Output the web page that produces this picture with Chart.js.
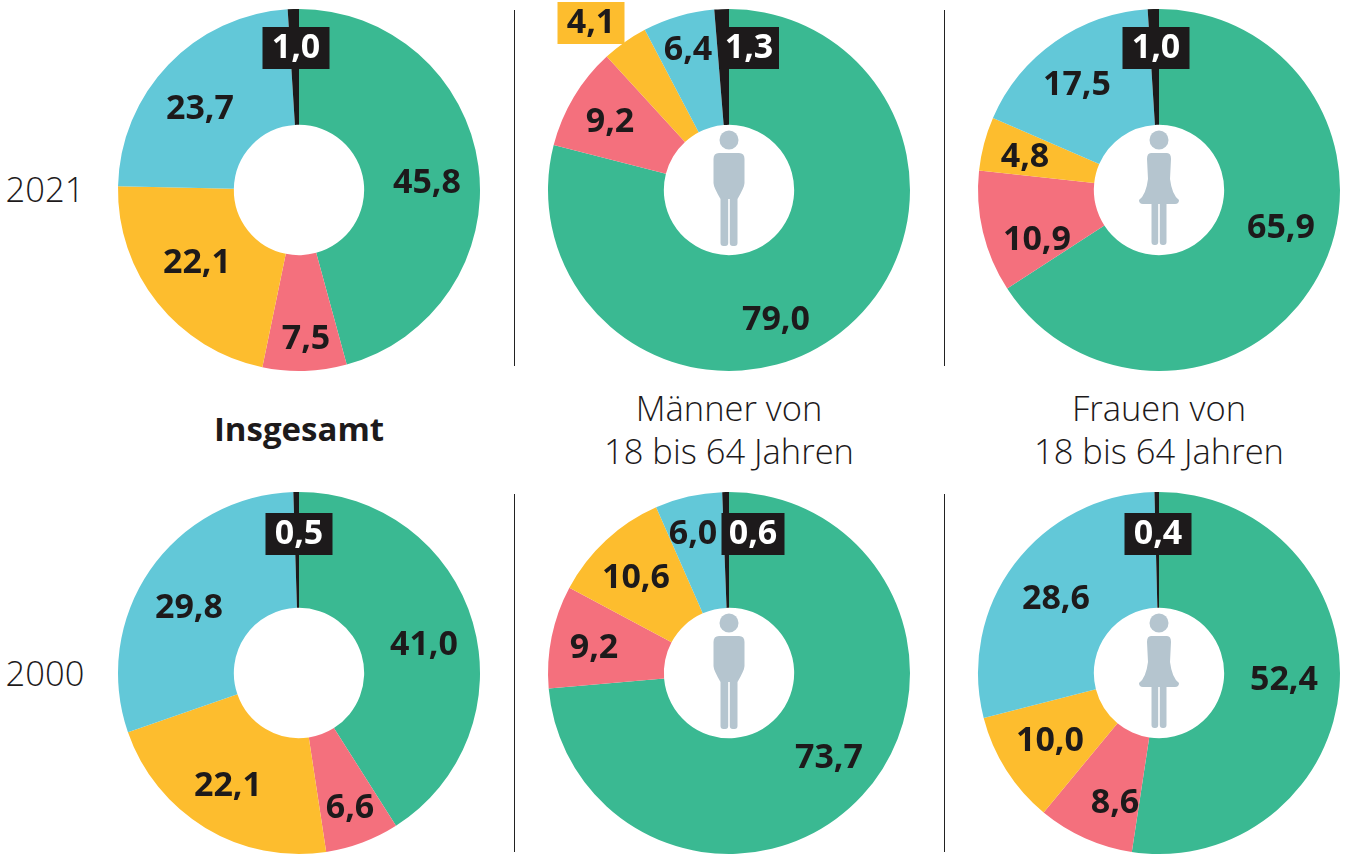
<!DOCTYPE html>
<html lang="de">
<head>
<meta charset="utf-8">
<title>Donuts</title>
<script src="https://cdn.jsdelivr.net/npm/chart.js@4"></script>
<style>
  html, body { margin: 0; padding: 0; background: #fff; }
  #page { position: relative; width: 1348px; height: 854px; overflow: hidden; font-family: "Open Sans", sans-serif; color: #1d1a1b; }
  canvas { position: absolute; }
  .txt { position: absolute; font-size: 34.5px; line-height: 43px; font-weight: 300; white-space: nowrap; text-align: center; transform: translateX(-50%); }
  .rule { position: absolute; width: 1px; background: #222; }
</style>
</head>
<body>
<div id="page">
  <div class="txt" style="left:45px;top:167px">2021</div>
  <div class="txt" style="left:45px;top:651px">2000</div>
  <div class="txt" style="left:299px;top:407px;font-weight:700;font-size:33px">Insgesamt</div>
  <div class="txt" style="left:729px;top:386px">Männer von<br>18 bis 64 Jahren</div>
  <div class="txt" style="left:1159px;top:386px">Frauen von<br>18 bis 64 Jahren</div>
  <div class="rule" style="left:514px;top:10px;height:356px"></div>
  <div class="rule" style="left:944px;top:10px;height:356px"></div>
  <div class="rule" style="left:514px;top:494px;height:358px"></div>
  <div class="rule" style="left:944px;top:494px;height:358px"></div>
  <canvas id="c0"></canvas><canvas id="c1"></canvas><canvas id="c2"></canvas>
  <canvas id="c3"></canvas><canvas id="c4"></canvas><canvas id="c5"></canvas>
</div>
<script>
const categories = ["Grün", "Rot", "Gelb", "Blau", "Schwarz"];

const total2021 = [45.8, 7.5, 22.1, 23.7, 1.0];
const men2021 = [79.0, 9.2, 4.1, 6.4, 1.3];
const women2021 = [65.9, 10.9, 4.8, 17.5, 1.0];
const total2000 = [41.0, 6.6, 22.1, 29.8, 0.5];
const men2000 = [73.7, 9.2, 10.6, 6.0, 0.6];
const women2000 = [52.4, 8.6, 10.0, 28.6, 0.4];

const colors = ["#3ab992", "#f4707d", "#fdbd2e", "#62c8d8", "#1d1a1b"];

// label positions relative to the donut centre, same order as the values
const charts = [
  { id: "c0", values: total2021, cx: 299, cy: 190, icon: null, at: [[128, -7], [7, 149], [-102, 73], [-99, -81], [-3, -142]] },
  { id: "c1", values: men2021, cx: 729, cy: 190, icon: "man", at: [[47, 130], [-119, -68], [-138, -167], [-41, -140], [20, -142]], boxed: { 2: "#fdbd2e" }, blackW: 60 },
  { id: "c2", values: women2021, cx: 1159, cy: 190, icon: "woman", at: [[122, 38], [-122, 50], [-134, -33], [-82, -105], [-3, -142]] },
  { id: "c3", values: total2000, cx: 299, cy: 673, icon: null, at: [[125, -28], [51, 135], [-71, 113], [-110, -65], [0, -139]] },
  { id: "c4", values: men2000, cx: 729, cy: 673, icon: "man", at: [[100, 85], [-135, -25], [-93, -95], [-36, -139], [24, -139]], blackW: 63 },
  { id: "c5", values: women2000, cx: 1159, cy: 673, icon: "woman", at: [[125, 7], [-44, 130], [-109, 68], [-103, -74], [-1, -139]] },
];

const boxW = 67;
const boxH = 42;

function fmt(v) {
  return v.toFixed(1).replace(".", ",");
}

// value labels and the grey figure in the hole
const labelPlugin = {
  id: "labels",
  afterDraw(chart, args, opts) {
    const ctx = chart.ctx;
    const c = chart.width / 2;
    if (opts.icon) drawIcon(ctx, c, opts.icon);
    ctx.font = "700 34px 'Open Sans', sans-serif";
    ctx.textAlign = "center";
    ctx.textBaseline = "middle";
    chart.data.datasets[0].data.forEach((v, i) => {
      const x = c + opts.at[i][0];
      const y = c + opts.at[i][1];
      let fill = "#1d1a1b";
      let box = opts.boxed[i];
      let w = boxW;
      if (i === 4) {
        box = "#1d1a1b";
        fill = "#fff";
        w = opts.blackW || boxW;
      }
      if (box) {
        ctx.fillStyle = box;
        ctx.fillRect(x - w / 2, y - boxH / 2, w, boxH);
      }
      ctx.fillStyle = fill;
      ctx.fillText(fmt(v), x, y);
    });
  },
};

function drawIcon(ctx, c, kind) {
  ctx.save();
  ctx.translate(c, c);
  ctx.fillStyle = "#b5c5cf";
  ctx.beginPath();
  ctx.arc(0, -50, 9.5, 0, Math.PI * 2);
  ctx.fill();
  ctx.beginPath();
  if (kind === "man") {
    ctx.moveTo(-10, -37);
    ctx.lineTo(10, -37);
    ctx.quadraticCurveTo(15.5, -37, 15.5, -31);
    ctx.lineTo(15.5, -7);
    ctx.quadraticCurveTo(15.5, -3, 8.5, 9);
    ctx.lineTo(-8.5, 9);
    ctx.quadraticCurveTo(-15.5, -3, -15.5, -7);
    ctx.lineTo(-15.5, -31);
    ctx.quadraticCurveTo(-15.5, -37, -10, -37);
    ctx.closePath();
    ctx.roundRect(-8.5, 5, 7.7, 51, 3);
    ctx.roundRect(0.8, 5, 7.7, 51, 3);
  } else {
    ctx.moveTo(-8, -37);
    ctx.lineTo(8, -37);
    ctx.quadraticCurveTo(12, -37, 12, -31);
    ctx.lineTo(11, -11);
    ctx.quadraticCurveTo(13, 5, 20, 10);
    ctx.quadraticCurveTo(20, 14, 16, 14);
    ctx.lineTo(-16, 14);
    ctx.quadraticCurveTo(-20, 14, -20, 10);
    ctx.quadraticCurveTo(-13, 5, -11, -11);
    ctx.lineTo(-12, -31);
    ctx.quadraticCurveTo(-12, -37, -8, -37);
    ctx.closePath();
    ctx.roundRect(-7.5, 9, 6.7, 46, 3);
    ctx.roundRect(0.8, 9, 6.7, 46, 3);
  }
  ctx.fill();
  ctx.restore();
}

// canvas is bigger than the donut so the labels near the edge are not cut
const size = 380;
const pad = 9;

charts.forEach((d) => {
  const el = document.getElementById(d.id);
  el.style.left = d.cx - size / 2 + "px";
  el.style.top = d.cy - size / 2 + "px";
  el.width = size;
  el.height = size;

  new Chart(el, {
    type: "doughnut",
    data: {
      labels: categories,
      datasets: [
        {
          data: d.values,
          backgroundColor: colors,
          borderWidth: 0,
        },
      ],
    },
    options: {
      responsive: false,
      animation: false,
      cutout: "36%",
      layout: { padding: pad },
      plugins: {
        legend: { display: false },
        tooltip: { enabled: false },
        labels: { at: d.at, icon: d.icon, boxed: d.boxed || {}, blackW: d.blackW },
      },
    },
    plugins: [labelPlugin],
  });
});
</script>
</body>
</html>
